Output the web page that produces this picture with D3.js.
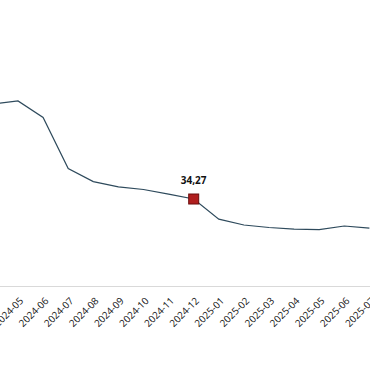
<!DOCTYPE html>
<html><head><meta charset="utf-8">
<script src="https://cdn.jsdelivr.net/npm/d3@7"></script>
<style>html,body{margin:0;padding:0;background:#fff;overflow:hidden}</style>
</head><body>
<svg id="c" width="370" height="380"></svg>
<script>
const months = ["2024-04","2024-05","2024-06","2024-07","2024-08","2024-09","2024-10","2024-11","2024-12","2025-01","2025-02","2025-03","2025-04","2025-05","2025-06","2025-07"];
const values = [71.5,72.7,66.2,46.2,41.1,39.0,38.0,36.2,34.27,26.4,24.1,23.1,22.5,22.3,23.7,22.9];
const highlight = "2024-12";

const svg = d3.select("#c");
const x = d3.scalePoint().domain(months).range([-7.1, 369.4]);
const y = d3.scaleLinear().domain([0, 80]).range([286.5, 286.5 - 80 * 2.553]);

svg.append("line").attr("x1", 0).attr("x2", 370).attr("y1", y(0)).attr("y2", y(0))
  .attr("stroke", "#d9d9d9").attr("stroke-width", 1.2);

const line = d3.line().x((d, i) => x(months[i])).y(d => y(d));
svg.append("path").datum(values).attr("d", line).attr("fill", "none")
  .attr("stroke", "#2e4a5c").attr("stroke-width", 1.2);

const hi = months.indexOf(highlight);
svg.append("rect").attr("x", x(highlight) - 5).attr("y", y(values[hi]) - 5)
  .attr("width", 10).attr("height", 10).attr("fill", "#b01e1e").attr("stroke", "#6a0d0d").attr("stroke-width", 1);
svg.append("text").attr("x", x(highlight)).attr("y", y(values[hi]) - 15)
  .attr("text-anchor", "middle").attr("font-family", "Open Sans, sans-serif")
  .attr("font-size", 10).attr("font-weight", "bold").attr("fill", "#111")
  .text(String(values[hi]).replace(".", ","));

svg.selectAll("text.tick").data(months).enter().append("text").attr("class", "tick")
  .attr("transform", d => `translate(${x(d) + 6},${y(0) + 15}) rotate(-45)`)
  .attr("text-anchor", "end").attr("font-family", "Open Sans, sans-serif")
  .attr("font-size", 9.8).attr("fill", "#111").text(d => d);
</script>
</body></html>
